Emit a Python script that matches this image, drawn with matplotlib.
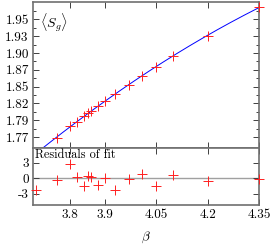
import numpy as np
import matplotlib
matplotlib.use('Agg')
import matplotlib.pyplot as plt

# fit data
beta = [3.76, 3.80, 3.82, 3.84, 3.85, 3.86, 3.88, 3.90, 3.93, 3.97, 4.01, 4.05, 4.10, 4.20, 4.35]
sg = [1.774, 1.7906, 1.7973, 1.8058, 1.8107, 1.8137, 1.8211, 1.8281, 1.8385, 1.8528,
      1.8665, 1.8796, 1.8958, 1.9258, 1.968]

# residuals of fit
beta_res = [3.70, 3.76, 3.80, 3.82, 3.84, 3.85, 3.86, 3.88, 3.90, 3.93, 3.97, 4.01, 4.05, 4.10, 4.20, 4.35]
res = [-2.25, -0.3, 2.65, 0.15, -1.6, 0.45, 0.3, -1.4, 0.05, -2.35, -0.2, 0.75, -1.6, 0.5, -0.6, -0.2]

xticks = [3.8, 3.9, 4.05, 4.2, 4.35]
yticks_top = [1.775 + 0.025 * k for k in range(8)]
ylabels_top = ['1.77', '1.79', '1.82', '1.85', '1.87', '1.90', '1.93', '1.95']
yticks_res = [-3, 0, 3]

plt.rcParams['font.family'] = 'serif'
plt.rcParams['font.serif'] = ['cmr10']
plt.rcParams['mathtext.fontset'] = 'cm'
plt.rcParams['font.size'] = 9.5

grey = '#707070'

fig = plt.figure(figsize=(2.72, 2.45), dpi=100)
ax1 = fig.add_axes([0.1213, 0.396, 0.831, 0.596])
ax2 = fig.add_axes([0.1213, 0.163, 0.831, 0.233])

xmin, xmax = 3.691, 4.35

# quadratic fit line
c = np.polyfit(beta, sg, 2)
xf = np.linspace(xmin, xmax, 200)
ax1.plot(xf, np.polyval(c, xf), color='#0000ff', lw=0.7, zorder=2)
ax1.plot(beta, sg, '+', color='#ff2020', ms=7.5, mew=0.7, zorder=3, clip_on=False)
ax1.set_xlim(xmin, xmax)
ax1.set_ylim(1.7586, 1.976)
ax1.set_xticks(xticks)
ax1.set_xticklabels([])
ax1.set_yticks(yticks_top)
ax1.set_yticklabels(ylabels_top)
ax1.set_yticks([1.7875 + 0.025 * k for k in range(8)], minor=True)
ax1.text(0.03, 0.94, r'$\langle S_g\rangle$', transform=ax1.transAxes, ha='left', va='top', fontsize=10)

ax2.axhline(0, color='#a0a0a0', lw=1.0, zorder=1)
ax2.plot(beta_res, res, '+', color='#ff2020', ms=7.5, mew=0.7, zorder=3, clip_on=False)
ax2.set_xlim(xmin, xmax)
ax2.set_ylim(-5.2, 5.8)
ax2.set_xticks(xticks)
ax2.set_xticklabels(['3.8', '3.9', '4.05', '4.2', '4.35'])
ax2.set_yticks(yticks_res)
ax2.set_yticklabels(['-3', '0', '3'])
ax2.set_xlabel(r'$\beta$', labelpad=6)
ax2.text(0.01, 0.99, 'Residuals of fit', transform=ax2.transAxes, ha='left', va='top', fontsize=8.8)

for ax in (ax1, ax2):
    for s in ax.spines.values():
        s.set_color(grey)
        s.set_linewidth(1.2)
    ax.tick_params(which='both', direction='in', top=True, right=True, color='#404040', width=0.7)
    ax.tick_params(which='major', length=4, pad=3)
    ax.tick_params(which='minor', length=2)

plt.savefig('out.png', dpi=100)
